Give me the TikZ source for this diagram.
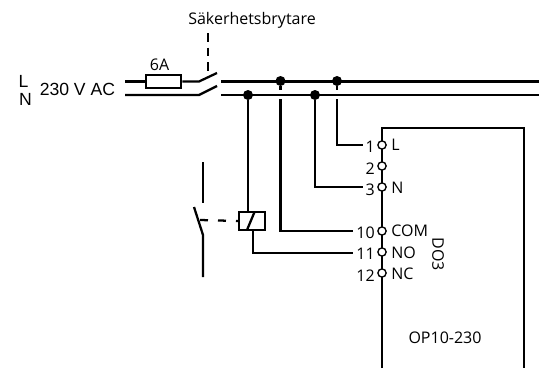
\documentclass[tikz,border=0pt]{standalone}
\usepackage{fontspec}
\setmainfont{Open Sans}
\newfontfamily\arialfont{Liberation Sans}
\tikzset{
  wire/.style={line width=1.7pt},
  thin wire/.style={line width=1.1pt},
  dot/.style={circle, fill=black, inner sep=0pt, minimum size=7.5pt},
  term/.style={circle, draw, fill=white, line width=1pt, inner sep=0pt, minimum size=6.2pt},
  label/.style={inner sep=0pt, font=\fontsize{12}{14}\selectfont},
  big/.style={inner sep=0pt, font=\arialfont\fontsize{13.2}{15}\selectfont},
}
\begin{document}
\begin{tikzpicture}[x=0.75pt, y=-0.75pt]
    \useasboundingbox (0, 0) rectangle (539, 368);

    % device
    \coordinate (boxbl) at (382, 368);
    \coordinate (boxtl) at (382, 128);
    \coordinate (boxtr) at (524, 128);
    \coordinate (boxbr) at (524, 368);
    \draw[thin wire] (boxbl) -- (boxtl) -- (boxtr) -- (boxbr);

    \node[term] (t1) at (382, 145) {};
    \node[term] (t2) at (382, 166) {};
    \node[term] (t3) at (382, 187) {};
    \node[term] (t10) at (382, 231) {};
    \node[term] (t11) at (382, 252) {};
    \node[term] (t12) at (382, 273) {};

    \node[label, anchor=east] (n1) at (375, 147) {1};
    \node[label, anchor=east] (n2) at (375, 169) {2};
    \node[label, anchor=east] (n3) at (375, 190) {3};
    \node[label, anchor=east] (n10) at (375, 233) {10};
    \node[label, anchor=east] (n11) at (375, 254) {11};
    \node[label, anchor=east] (n12) at (375, 276) {12};

    \node[label, anchor=west] (pl) at (391, 145) {L};
    \node[label, anchor=west] (pn) at (391, 188) {N};
    \node[label, anchor=west] (pcom) at (391, 231) {COM};
    \node[label, anchor=west] (pno) at (391, 253) {NO};
    \node[label, anchor=west] (pnc) at (391, 274) {NC};
    \node[label, rotate=-90] (do3) at (438, 254) {DO3};
    \node[label] (opname) at (445, 338) {OP10-230};

    % supply
    \node[big] (lbl) at (23.5, 81) {L};
    \node[big] (nbl) at (25.5, 99) {N};
    \node[big, anchor=west] (volt) at (39.5, 89) {230 V AC};
    \node[label] (amp) at (159.5, 64.5) {6A};
    \node[label] (brk) at (252, 20) {Säkerhetsbrytare};
    \node[draw, wire, inner sep=0pt, minimum width=26.5pt, minimum height=9.5pt] (fuse) at (163.5, 81.5) {};

    \coordinate (lin) at (125, 81.5);
    \coordinate (nin) at (125, 95);
    \coordinate (lpiv) at (199, 81.5);
    \coordinate (npiv) at (199, 95);
    \coordinate (ltip) at (217, 73);
    \coordinate (ntip) at (217, 86);
    \coordinate (lout) at (221, 81.5);
    \coordinate (nout) at (221, 95);
    \coordinate (lend) at (539, 81.5);
    \coordinate (nend) at (539, 95);
    \coordinate (dashtop) at (208, 33);
    \coordinate (dashend) at (208, 77);

    \draw[wire] (lin) -- (fuse);
    \draw[wire] (fuse) -- (lpiv) -- (ltip);
    \draw[wire] (nin) -- (npiv) -- (ntip);
    \draw[wire] (lout) -- (lend);
    \draw[wire] (nout) -- (nend);
    \draw[wire, dash pattern=on 6.5pt off 4.5pt] (dashtop) -- (dashend);

    \node[dot] (d1) at (248, 95) {};
    \node[dot] (d2) at (280.5, 81) {};
    \node[dot] (d3) at (315, 95) {};
    \node[dot] (d4) at (337, 81) {};

    % relay
    \node[draw, wire, inner sep=0pt, minimum width=19.5pt, minimum height=13.5pt] (coil) at (252, 221) {};
    \coordinate (slashb) at (247, 230);
    \coordinate (slasht) at (254.5, 212);
    \draw[wire] (slashb) -- (slasht);

    % wires to terminals
    \coordinate (g2a) at (280.5, 90);
    \coordinate (g2b) at (280.5, 99);
    \coordinate (g4a) at (337, 90);
    \coordinate (g4b) at (337, 99);
    \coordinate (e1) at (363, 145);
    \coordinate (e3) at (363, 187);
    \coordinate (e10) at (353, 231);
    \coordinate (e11) at (353, 253);
    \coordinate (coilout) at (253, 230);
    \coordinate (coilin) at (248, 212);

    \draw[wire] (d1) -- (coilin);
    \draw[wire] (d2) -- (g2a);
    \draw[wire] (g2b) |- (e10);
    \draw[wire] (d3) |- (e3);
    \draw[wire] (d4) -- (g4a);
    \draw[wire] (g4b) |- (e1);
    \draw[wire] (coilout) |- (e11);

    % switch
    \coordinate (sw1) at (203, 162);
    \coordinate (sw2) at (203, 203);
    \coordinate (sw3) at (194, 207);
    \coordinate (sw4) at (203, 235);
    \coordinate (sw5) at (203, 277);
    \coordinate (swm) at (200, 220);

    \draw[wire] (sw1) -- (sw2);
    \draw[wire] (sw3) -- (sw4) -- (sw5);
    \draw[wire, dash pattern=on 6pt off 7.5pt] (swm) -- (coil.west);
  \end{tikzpicture}
\end{document}
